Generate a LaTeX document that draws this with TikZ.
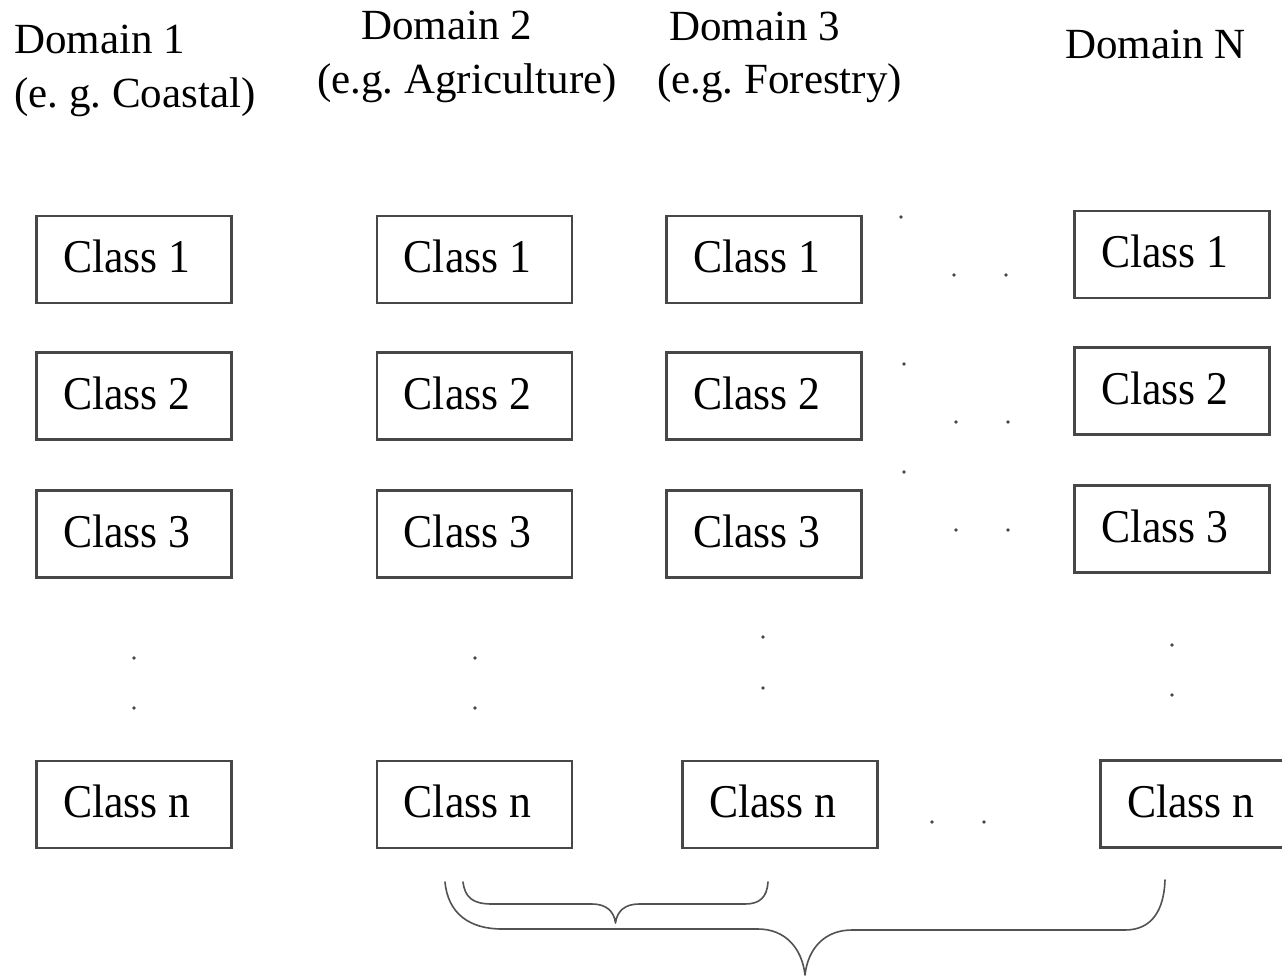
\documentclass[tikz,border=0pt]{standalone}
\usepackage{fontspec}
\setmainfont{Liberation Serif}
\newfontfamily\classfont[FakeStretch=0.93]{Liberation Serif}
\newcommand\classbox[4]{%
  \node[cls] (#1) at (#2,#3) {};
  \node[ctext] (#1t) at (#2-71,#3+13) {#4};}
\begin{document}
\frenchspacing
\begin{tikzpicture}[x=0.75pt,y=-0.75pt,
  cls/.style={draw=black!72, line width=1.8pt, inner sep=0pt,
    minimum width=146.25pt, minimum height=65.25pt},
  ctext/.style={anchor=base west, inner sep=0pt, font=\classfont\fontsize{35.25}{40}\selectfont},
  hdr/.style={anchor=base west, inner sep=0pt, font=\fontsize{32.25}{38}\selectfont},
  brace/.style={draw=black!68, line width=1.2pt, line cap=round, line join=round},
  dotfill/.style={fill=black!72}]
\clip (0,0) rectangle (1282,979);
\fill[white] (0,0) rectangle (1282,979);
% headers
\node[hdr] (h1a) at (14,53) {Domain 1};
\node[hdr] (h1b) at (14,107) {(e. g. Coastal)};
\node[hdr] (h2a) at (361,39) {Domain 2};
\node[hdr] (h2b) at (317,93) {(e.g. Agriculture)};
\node[hdr] (h3a) at (669,40) {Domain 3};
\node[hdr] (h3b) at (657,93) {(e.g. Forestry)};
\node[hdr] (hN) at (1065,58) {Domain N};
% column 1
\classbox{a1}{134}{259.5}{Class 1}
\classbox{a2}{134}{396}{Class 2}
\classbox{a3}{134}{534}{Class 3}
\classbox{an}{134}{804.5}{Class n}
% column 2
\classbox{b1}{474.5}{259.5}{Class 1}
\classbox{b2}{474.5}{396}{Class 2}
\classbox{b3}{474.5}{534}{Class 3}
\classbox{bn}{474.5}{804.5}{Class n}
% column 3
\classbox{c1}{764}{259.5}{Class 1}
\classbox{c2}{764}{396}{Class 2}
\classbox{c3}{764}{534}{Class 3}
\classbox{cn}{780}{804.5}{Class n}
% column N
\classbox{d1}{1172}{254.5}{Class 1}
\classbox{d2}{1172}{391}{Class 2}
\classbox{d3}{1172}{529}{Class 3}
\classbox{dn}{1198}{804}{Class n}
% vertical dots
\foreach \x/\ya/\yb in {134/658/708, 475/658/708, 763/637/688, 1172/645/695}{
  \fill[dotfill] (\x,\ya) circle (1.4pt);
  \fill[dotfill] (\x,\yb) circle (1.4pt);
}
% horizontal dots between column 3 and column N
\foreach \p in {(901,217),(954,275),(1006,275),
                (904,364),(956,422),(1008,422),
                (904,472),(956,530),(1008,530),
                (932,822),(984,822)}{
  \fill[dotfill] \p circle (1.4pt);
}
% inner brace
\coordinate (ib1) at (463,882);
\coordinate (ib2) at (768,882);
\coordinate (it) at (615.5,923);
\draw[brace] (ib1) .. controls (465,897) and (472,904) .. (492,904) -- (592,904)
  .. controls (606,904) and (614,911) .. (it)
  .. controls (617,911) and (625,904) .. (639,904) -- (745,904)
  .. controls (760,904) and (767,897) .. (ib2);
% outer brace
\coordinate (ob1) at (445,882);
\coordinate (ob2) at (1165,880);
\coordinate (ot) at (805,975);
\draw[brace] (ob1) .. controls (448,914) and (470,929) .. (502,929) -- (758,929)
  .. controls (785,929) and (802,948) .. (ot)
  .. controls (808,948) and (825,930) .. (852,930) -- (1125,930)
  .. controls (1152,930) and (1164,910) .. (ob2);
\end{tikzpicture}
\end{document}
